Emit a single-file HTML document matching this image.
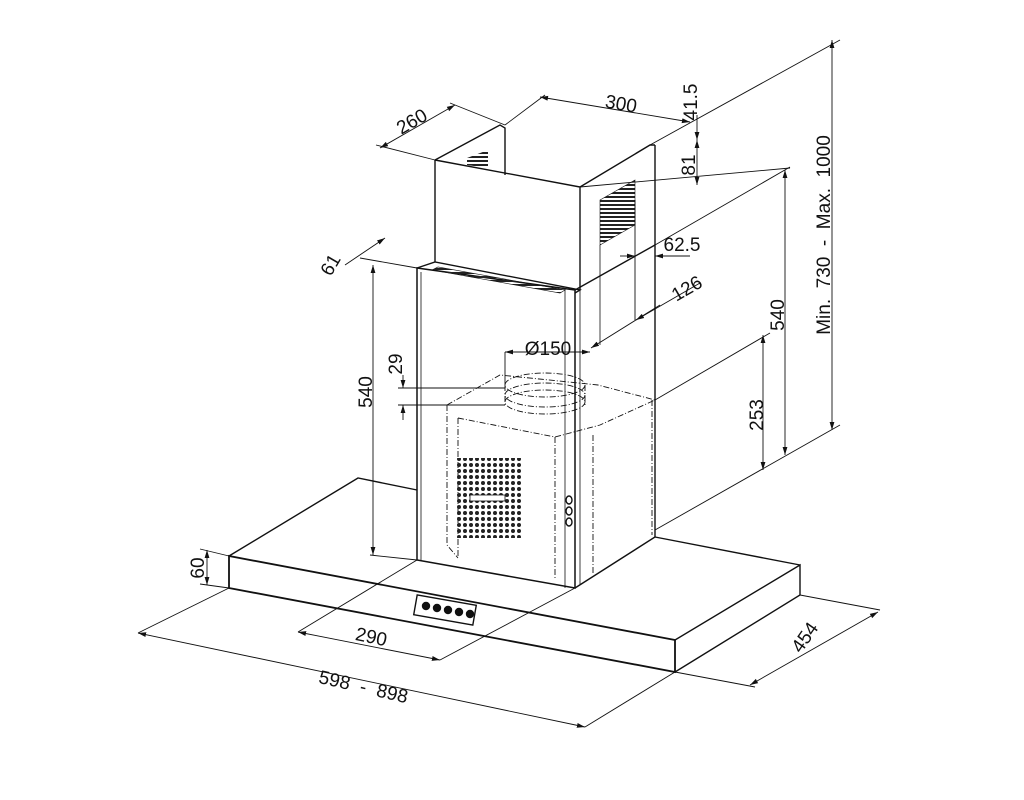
<!DOCTYPE html>
<html><head><meta charset="utf-8"><style>
html,body{margin:0;padding:0;background:#fff}
svg{display:block}
text{font-family:"Liberation Sans",sans-serif;font-size:19px;fill:#111}
</style></head><body>
<svg width="1024" height="800" viewBox="0 0 1024 800">
<defs>
<marker id="a" viewBox="0 0 10 10" refX="10" refY="5" markerWidth="9" markerHeight="9" orient="auto-start-reverse"><path d="M0,2 L10,5 L0,8 z" fill="#111"/></marker>
<pattern id="dots" width="6" height="6" patternUnits="userSpaceOnUse"><circle cx="3" cy="3" r="2" fill="#222"/></pattern>
<pattern id="slats" width="4" height="4" patternUnits="userSpaceOnUse"><rect width="4" height="2" fill="#222"/></pattern>
</defs>
<g stroke="#111" fill="none" stroke-width="1.4">
<path d="M229,556 L229,588 L675,672 L675,640 Z" stroke-width="1.8"/>
<path d="M675,672 L800,595 L800,565 L675,640"/>
<path d="M229,556 L358,478 L417,490"/>
<path d="M655,537 L800,565"/>
<path d="M417,268 L417,560 L575,588 L575,290 Z" stroke-width="1.5"/>
<path d="M421,272 L421,560" stroke-width="0.8"/>
<path d="M565,288 L565,588 M580,290 L580,585" stroke-width="0.8"/>
<path d="M575,588 L655,537 L655,145"/>
<path d="M575,290 L655,245"/>
<path d="M417,268 L435,262 L580,290 L575,293" />
<polygon points="432,270 560,293 565,290 438,267" fill="url(#slats)" stroke-width="0.6"/>
<path d="M435,160 L435,262 M435,160 L580,187 L580,290"/>
<path d="M435,160 L500,125 L505,128 L505,175"/>
<path d="M580,187 L650,145 L655,145"/>
<polygon points="467,158 488,150 488,168 467,165" fill="url(#slats)" stroke="none"/>
<polygon points="600,200 635,180 635,225 600,245" fill="url(#slats)" stroke-width="0.6"/>
<path d="M600,245 L600,345" stroke-width="0.8"/>
<g stroke-dasharray="6,2,1,2" stroke-width="0.9">
<path d="M447,405 L500,375 L598,385 L655,400"/>
<path d="M447,405 L447,545 L458,558 M458,418 L458,556"/>
<path d="M458,418 L555,437 L600,425 L655,400"/>
<path d="M555,437 L555,580 M593,435 L593,575 M652,400 L652,535"/>
<ellipse cx="545" cy="385" rx="40" ry="12"/>
<ellipse cx="545" cy="395" rx="40" ry="12"/>
<ellipse cx="545" cy="402" rx="40" ry="12"/>
<path d="M505,385 L505,405 M585,385 L585,405"/>
</g>
<rect x="455" y="458" width="68" height="80" fill="url(#dots)" stroke="none"/>
<rect x="470" y="495" width="35" height="6" fill="#fff" stroke="#111" stroke-width="0.8"/>
<ellipse cx="569" cy="500" rx="3" ry="4"/><ellipse cx="569" cy="511" rx="3" ry="4"/><ellipse cx="569" cy="522" rx="3" ry="4"/>
<rect x="415" y="600" width="60" height="20" transform="rotate(10 445 610)"/>
<g fill="#111"><circle cx="426" cy="606" r="3.5"/><circle cx="437" cy="608" r="3.5"/><circle cx="448" cy="610" r="3.5"/><circle cx="459" cy="612" r="3.5"/><circle cx="470" cy="614" r="3.5"/></g>
</g>
<g stroke="#111" fill="none" stroke-width="0.9">
<line x1="380" y1="148" x2="455" y2="105" marker-start="url(#a)" marker-end="url(#a)"/>
<line x1="435" y1="160" x2="376" y2="145"/><line x1="505" y1="125" x2="450" y2="103"/>
<line x1="540" y1="97" x2="690" y2="122" marker-start="url(#a)" marker-end="url(#a)"/>
<line x1="505" y1="125" x2="545" y2="95"/>
<line x1="697" y1="115" x2="697" y2="140" marker-end="url(#a)"/>
<line x1="697" y1="140" x2="697" y2="185" marker-start="url(#a)" marker-end="url(#a)"/>
<line x1="650" y1="145" x2="840" y2="40"/>
<line x1="580" y1="187" x2="790" y2="168"/>
<line x1="832" y1="40" x2="832" y2="430" marker-start="url(#a)" marker-end="url(#a)"/>
<line x1="655" y1="530" x2="840" y2="425"/>
<line x1="785" y1="170" x2="785" y2="455" marker-start="url(#a)" marker-end="url(#a)"/>
<line x1="655" y1="245" x2="790" y2="167"/>
<line x1="763" y1="335" x2="763" y2="470" marker-start="url(#a)" marker-end="url(#a)"/>
<line x1="655" y1="400" x2="770" y2="333"/>
<line x1="620" y1="256" x2="635" y2="256" marker-end="url(#a)"/>
<line x1="690" y1="256" x2="655" y2="256" marker-end="url(#a)"/>
<line x1="635" y1="200" x2="635" y2="320"/>
<line x1="700" y1="283" x2="636" y2="320" marker-end="url(#a)"/>
<line x1="660" y1="305" x2="591" y2="348" marker-end="url(#a)"/>
<line x1="505" y1="352" x2="590" y2="352" marker-start="url(#a)" marker-end="url(#a)"/>
<line x1="505" y1="352" x2="505" y2="385"/>
<line x1="403" y1="375" x2="403" y2="388" marker-end="url(#a)"/>
<line x1="403" y1="420" x2="403" y2="405" marker-end="url(#a)"/>
<line x1="398" y1="388" x2="505" y2="388"/><line x1="398" y1="405" x2="505" y2="405"/>
<line x1="373" y1="265" x2="373" y2="555" marker-start="url(#a)" marker-end="url(#a)"/>
<line x1="360" y1="258" x2="417" y2="268"/><line x1="370" y1="555" x2="417" y2="560"/>
<line x1="345" y1="265" x2="385" y2="238" marker-end="url(#a)"/>
<line x1="207" y1="550" x2="207" y2="585" marker-start="url(#a)" marker-end="url(#a)"/>
<line x1="200" y1="549" x2="229" y2="556"/><line x1="200" y1="584" x2="229" y2="588"/>
<line x1="298" y1="632" x2="440" y2="660" marker-start="url(#a)" marker-end="url(#a)"/>
<line x1="298" y1="632" x2="417" y2="560"/><line x1="440" y1="660" x2="575" y2="588"/>
<line x1="138" y1="633" x2="585" y2="727" marker-start="url(#a)" marker-end="url(#a)"/>
<line x1="138" y1="633" x2="229" y2="588"/><line x1="585" y1="727" x2="675" y2="672"/>
<line x1="750" y1="685" x2="878" y2="612" marker-start="url(#a)" marker-end="url(#a)"/>
<line x1="675" y1="672" x2="755" y2="687"/><line x1="800" y1="595" x2="880" y2="610"/>
</g>
<text transform="translate(415,127) rotate(-30)" text-anchor="middle">260</text>
<text transform="translate(620,110) rotate(10)" text-anchor="middle">300</text>
<text transform="translate(697,102) rotate(-90)" text-anchor="middle">41.5</text>
<text transform="translate(695,165) rotate(-90)" text-anchor="middle">81</text>
<text transform="translate(830,235) rotate(-90)" text-anchor="middle" xml:space="preserve">Min.  730  -  Max.  1000</text>
<text transform="translate(784,315) rotate(-90)" text-anchor="middle">540</text>
<text transform="translate(763,415) rotate(-90)" text-anchor="middle">253</text>
<text x="682" y="251" text-anchor="middle">62.5</text>
<text transform="translate(690,294) rotate(-30)" text-anchor="middle">126</text>
<text x="548" y="355" text-anchor="middle">Ø150</text>
<text transform="translate(402,364) rotate(-90)" text-anchor="middle">29</text>
<text transform="translate(372,392) rotate(-90)" text-anchor="middle">540</text>
<text transform="translate(336,268) rotate(-60)" text-anchor="middle">61</text>
<text transform="translate(204,568) rotate(-90)" text-anchor="middle">60</text>
<text transform="translate(370,643) rotate(12)" text-anchor="middle">290</text>
<text transform="translate(362,693) rotate(13)" text-anchor="middle" xml:space="preserve">598  -  898</text>
<text transform="translate(810,641) rotate(-55)" text-anchor="middle">454</text>
</svg>
</body></html>
